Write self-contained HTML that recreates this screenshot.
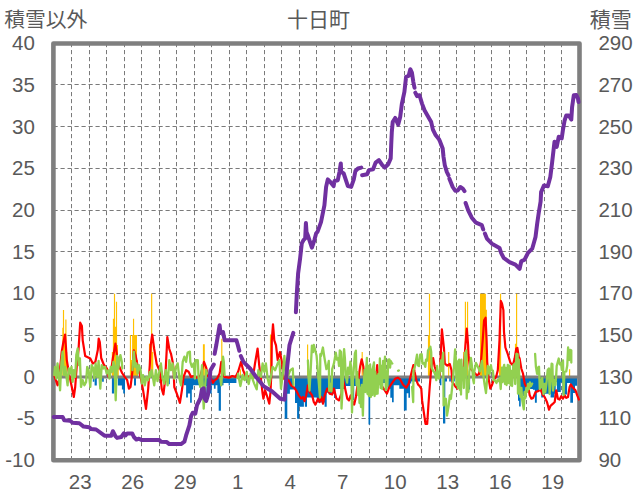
<!DOCTYPE html>
<html><head><meta charset="utf-8"><title>十日町</title>
<style>html,body{margin:0;padding:0;background:#fff;font-family:"Liberation Sans",sans-serif}svg{display:block}</style>
</head><body>
<svg width="636" height="501" viewBox="0 0 636 501">
<rect width="636" height="501" fill="#fff"/>
<path d="M71.5 43V460 M89.5 43V460 M106.5 43V460 M124.5 43V460 M141.5 43V460 M159.5 43V460 M176.5 43V460 M194.5 43V460 M211.5 43V460 M229.5 43V460 M246.5 43V460 M264.5 43V460 M281.5 43V460 M299.5 43V460 M316.5 43V460 M334.5 43V460 M351.5 43V460 M369.5 43V460 M386.5 43V460 M404.5 43V460 M421.5 43V460 M439.5 43V460 M456.5 43V460 M474.5 43V460 M491.5 43V460 M509.5 43V460 M526.5 43V460 M544.5 43V460 M561.5 43V460 M53.5 84.5H579.5 M53.5 126.5H579.5 M53.5 168.5H579.5 M53.5 210.5H579.5 M53.5 251.5H579.5 M53.5 293.5H579.5 M53.5 335.5H579.5 M53.5 376.5H579.5 M53.5 418.5H579.5" stroke="#7a7a7a" stroke-width="1" stroke-dasharray="4.2 2.8" fill="none"/>
<path d="M62.32 377.1H63.48V327.8H62.32ZM62.92 377.1H64.08V310.1H62.92ZM63.72 377.1H64.88V335.1H63.72ZM64.52 377.1H65.68V335.1H64.52ZM65.32 377.1H66.48V319.4H65.32ZM66.02 377.1H67.18V352.0H66.02ZM111.82 377.1H112.98V352.0H111.82ZM112.87 377.1H114.03V318.8H112.87ZM113.92 377.1H115.08V293.8H113.92ZM114.97 377.1H116.13V326.8H114.97ZM115.92 377.1H117.08V301.8H115.92ZM116.82 377.1H117.98V345.0H116.82ZM117.62 377.1H118.78V360.0H117.62ZM129.87 377.1H131.03V335.1H129.87ZM130.82 377.1H131.98V360.0H130.82ZM132.10 377.1H137.00V335.1H132.10ZM132.97 377.1H134.13V318.8H132.97ZM136.82 377.1H137.98V360.0H136.82ZM148.92 377.1H150.08V343.7H148.92ZM151.07 377.1H152.23V293.8H151.07ZM152.12 377.1H153.28V352.0H152.12ZM202.90 377.1H204.80V344.2H202.90ZM221.22 377.1H222.38V338.7H221.22ZM239.82 377.1H240.98V369.3H239.82ZM269.92 377.1H271.08V334.5H269.92ZM307.02 377.1H308.18V344.5H307.02ZM361.62 377.1H362.78V352.1H361.62ZM427.92 377.1H429.08V335.3H427.92ZM428.92 377.1H430.08V293.8H428.92ZM429.82 377.1H430.98V347.0H429.82ZM448.12 377.1H449.28V352.1H448.12ZM463.22 377.1H464.38V352.0H463.22ZM464.82 377.1H465.98V301.8H464.82ZM466.97 377.1H468.13V301.8H466.97ZM480.00 377.1H485.90V293.8H480.00ZM485.90 377.1H486.90V309.8H485.90ZM499.02 377.1H500.18V318.8H499.02ZM499.97 377.1H501.13V293.8H499.97ZM514.92 377.1H516.08V343.7H514.92ZM516.02 377.1H517.18V293.8H516.02ZM515.12 377.1H516.28V372.5H515.12ZM555.92 377.1H557.08V372.7H555.92ZM569.02 377.1H570.18V369.3H569.02Z" fill="#FFC000"/>
<path d="M92.80 377.1H94.20V381.7H92.80ZM94.60 377.1H96.80V385.6H94.60ZM102.10 377.1H103.80V381.7H102.10ZM111.90 377.1H114.20V393.6H111.90ZM117.90 377.1H121.90V385.6H117.90ZM121.90 377.1H123.20V389.6H121.90ZM123.20 377.1H125.00V393.6H123.20ZM134.00 377.1H136.00V385.6H134.00ZM168.40 377.1H169.80V384.3H168.40ZM183.90 377.1H186.10V385.2H183.90ZM186.10 377.1H187.90V397.5H186.10ZM187.90 377.1H190.10V393.6H187.90ZM190.10 377.1H191.80V402.8H190.10ZM191.80 377.1H193.20V389.6H191.80ZM193.20 377.1H202.40V385.2H193.20ZM202.40 377.1H206.40V386.0H202.40ZM206.40 377.1H211.70V393.6H206.40ZM211.70 377.1H213.90V385.2H211.70ZM213.90 377.1H215.60V388.7H213.90ZM215.60 377.1H217.40V385.2H215.60ZM217.40 377.1H218.70V393.1H217.40ZM218.70 377.1H220.90V410.7H218.70ZM220.90 377.1H223.50V385.2H220.90ZM223.50 377.1H236.40V383.0H223.50ZM228.65 377.1H229.85V385.6H228.65ZM284.70 377.1H287.30V418.7H284.70ZM287.30 377.1H289.90V393.8H287.30ZM289.90 377.1H294.00V389.6H289.90ZM295.00 377.1H297.10V403.0H295.00ZM297.10 377.1H299.20V418.7H297.10ZM299.20 377.1H303.90V406.8H299.20ZM303.80 377.1H305.00V402.0H303.80ZM304.90 377.1H307.00V406.8H304.90ZM307.00 377.1H316.80V397.4H307.00ZM316.80 377.1H324.60V402.5H316.80ZM324.60 377.1H326.70V406.8H324.60ZM326.70 377.1H328.80V392.7H326.70ZM328.80 377.1H334.00V393.8H328.80ZM334.00 377.1H335.50V398.0H334.00ZM335.50 377.1H346.00V389.0H335.50ZM346.00 377.1H352.00V386.0H346.00ZM352.00 377.1H354.20V400.0H352.00ZM354.20 377.1H359.60V386.0H354.20ZM359.60 377.1H361.80V388.8H359.60ZM361.80 377.1H368.50V384.0H361.80ZM368.50 377.1H370.20V424.6H368.50ZM370.20 377.1H375.80V384.0H370.20ZM375.80 377.1H378.00V385.4H375.80ZM378.00 377.1H387.50V383.0H378.00ZM387.50 377.1H390.30V388.8H387.50ZM390.30 377.1H392.00V397.7H390.30ZM392.00 377.1H393.70V402.2H392.00ZM393.70 377.1H399.30V385.3H393.70ZM399.30 377.1H403.90V388.8H399.30ZM403.90 377.1H406.70V410.6H403.90ZM406.70 377.1H408.40V393.3H406.70ZM408.40 377.1H410.00V397.7H408.40ZM410.00 377.1H411.20V383.6H410.00ZM411.20 377.1H420.00V381.5H411.20ZM439.80 377.1H441.40V385.3H439.80ZM443.00 377.1H445.30V423.5H443.00ZM445.30 377.1H447.00V381.5H445.30ZM449.20 377.1H450.90V381.5H449.20ZM453.70 377.1H454.80V381.5H453.70ZM466.70 377.1H470.10V389.6H466.70ZM518.00 377.1H519.10V400.7H518.00ZM519.10 377.1H520.70V406.6H519.10ZM520.70 377.1H526.20V396.0H520.70ZM526.20 377.1H532.90V389.0H526.20ZM532.90 377.1H534.90V389.7H532.90ZM534.90 377.1H536.80V402.7H534.90ZM536.80 377.1H541.20V391.3H536.80ZM541.20 377.1H543.10V397.6H541.20ZM543.10 377.1H550.60V393.7H543.10ZM550.60 377.1H554.50V397.6H550.60ZM554.50 377.1H555.70V393.7H554.50ZM555.70 377.1H556.90V381.9H555.70ZM556.90 377.1H560.80V392.0H556.90ZM560.80 377.1H562.40V382.6H560.80ZM562.40 377.1H567.10V394.4H562.40ZM567.10 377.1H570.30V383.0H567.10ZM570.30 377.1H573.00V402.7H570.30ZM573.00 377.1H575.00V392.9H573.00ZM575.00 377.1H577.30V385.8H575.00Z" fill="#0070C0"/>
<path d="M53.4 377.1H579.5" stroke="#7F7F7F" stroke-width="3" fill="none"/>
<rect x="53.4" y="43.5" width="526.1" height="416.7" fill="none" stroke="#7F7F7F" stroke-width="4.6" stroke-linejoin="round"/>
<path d="M54.2 375.2 L57.6 385.3 L59.0 380.0 L61.7 351.7 L63.4 342.0 L65.1 334.5 L66.8 360.1 L69.3 375.2 L71.8 387.0 L73.8 397.0 L75.2 387.0 L76.8 365.1 L78.5 350.0 L80.2 322.7 L81.9 326.1 L82.7 340.3 L85.2 356.0 L90.3 358.6 L92.8 363.6 L95.3 362.0 L97.8 350.0 L98.7 338.7 L99.8 342.0 L101.2 358.0 L103.7 364.5 L107.0 368.7 L108.7 376.9 L111.2 370.2 L112.9 358.0 L115.4 343.7 L117.1 356.0 L118.8 365.5 L122.1 373.0 L124.7 376.9 L127.2 380.2 L128.9 388.6 L130.5 387.0 L132.2 373.5 L133.9 350.4 L135.6 355.4 L137.2 363.8 L138.1 368.5 L140.6 376.9 L143.1 390.3 L146.0 408.8 L148.2 388.6 L149.8 365.1 L150.7 345.4 L152.2 334.5 L154.2 349.0 L156.7 364.0 L160.1 371.8 L161.7 388.6 L163.4 394.5 L165.1 380.2 L166.8 348.4 L167.3 337.0 L169.3 349.0 L171.0 353.8 L172.7 362.1 L173.5 368.5 L174.3 387.0 L176.8 393.7 L179.9 402.9 L181.9 390.3 L183.6 376.9 L186.1 370.2 L188.6 371.8 L191.1 376.9 L193.6 376.0 L197.0 377.7 L200.3 376.0 L202.9 366.8 L204.0 361.8 L206.2 367.7 L207.9 376.0 L211.2 378.6 L212.9 382.8 L214.6 380.2 L217.1 378.6 L219.6 373.5 L221.3 361.8 L223.0 373.5 L224.7 376.9 L228.9 377.7 L232.2 376.0 L235.6 376.9 L238.1 371.8 L241.1 361.8 L243.1 370.2 L245.6 376.0 L250.7 376.9 L254.0 370.2 L255.0 363.5 L257.6 348.5 L259.2 365.1 L260.9 378.6 L262.6 393.7 L263.4 398.7 L265.1 390.3 L266.8 395.3 L269.3 403.7 L270.5 392.0 L271.5 370.2 L271.8 340.3 L273.0 324.4 L274.3 340.3 L276.0 345.4 L277.7 360.0 L279.9 352.0 L281.9 362.0 L283.6 378.6 L286.0 379.0 L288.6 380.2 L291.1 385.3 L293.6 387.0 L296.1 390.3 L298.7 395.3 L301.2 398.7 L302.9 397.0 L304.5 401.2 L306.2 395.3 L307.9 385.3 L309.6 392.0 L312.1 395.3 L313.8 402.0 L315.4 404.6 L318.0 398.7 L319.6 402.0 L321.3 397.0 L323.0 403.7 L324.7 395.3 L327.2 388.6 L329.7 393.7 L332.2 394.5 L333.9 388.6 L336.4 398.7 L338.9 400.4 L341.4 393.7 L343.1 380.2 L344.8 387.0 L347.3 398.7 L349.0 400.4 L350.7 395.3 L353.2 403.7 L354.2 404.6 L355.9 397.0 L358.4 378.6 L360.1 366.8 L361.7 359.3 L363.4 366.8 L364.3 378.6 L367.0 384.0 L370.0 386.0 L373.0 384.0 L376.0 378.6 L377.2 365.0 L378.2 378.6 L380.0 383.0 L383.6 388.6 L386.9 393.7 L389.4 387.0 L392.8 381.9 L395.3 378.6 L397.8 377.7 L400.3 379.4 L402.9 384.4 L406.2 387.8 L408.7 383.6 L410.4 376.9 L412.1 370.2 L413.4 365.0 L414.6 371.8 L416.3 380.2 L418.0 384.4 L419.6 386.1 L421.3 388.6 L422.1 400.4 L423.8 412.1 L425.5 423.9 L427.2 423.9 L428.5 403.7 L429.7 387.0 L431.4 366.8 L433.1 358.0 L434.7 366.8 L437.2 373.5 L439.8 375.2 L440.6 358.8 L441.9 329.4 L444.0 348.7 L444.8 363.6 L447.3 365.7 L449.8 364.0 L451.5 370.3 L452.3 381.9 L454.0 384.4 L455.7 387.0 L457.6 388.6 L459.2 378.6 L461.5 376.0 L463.4 370.2 L464.8 355.0 L465.4 345.4 L466.8 328.6 L468.1 345.4 L468.5 355.0 L470.1 368.5 L473.5 371.8 L476.8 375.2 L479.0 374.0 L481.0 361.8 L482.7 340.3 L484.1 320.2 L485.6 317.7 L486.6 340.3 L487.2 361.8 L488.6 378.6 L490.3 388.6 L491.9 385.3 L493.6 380.2 L496.1 376.9 L497.8 370.2 L499.5 340.3 L500.8 300.9 L502.0 303.4 L503.4 310.1 L504.0 332.0 L505.4 347.5 L507.9 354.4 L510.4 362.8 L512.9 365.3 L514.6 358.6 L516.3 348.5 L517.4 347.9 L518.8 357.1 L519.6 358.4 L521.3 368.5 L523.0 373.5 L524.7 383.6 L526.3 387.0 L528.0 385.3 L529.7 395.3 L531.4 398.7 L533.1 397.9 L535.6 392.0 L538.1 391.1 L540.6 389.5 L542.8 395.0 L544.6 397.0 L547.0 402.0 L549.0 409.6 L550.5 405.8 L553.0 403.7 L554.7 402.0 L556.2 390.3 L557.9 398.7 L559.6 399.5 L561.2 396.2 L562.9 398.7 L564.6 395.3 L566.3 397.9 L568.0 397.0 L569.6 387.0 L570.8 384.4 L573.0 387.8 L575.5 390.3 L577.2 395.3 L578.9 399.5" stroke="#FF0000" stroke-width="2.2" fill="none" stroke-linejoin="round" stroke-linecap="round"/>
<path d="M54.2 375.2 L55.0 366.8 L56.4 378.5 L57.5 363.4 L58.4 370.2 L60.1 390.3 L61.4 361.8 L62.6 351.7 L63.8 375.2 L65.1 366.8 L67.6 385.3 L68.8 368.5 L70.1 373.5 L71.5 366.8 L72.6 381.9 L73.8 370.2 L75.2 376.9 L76.3 355.1 L77.7 348.4 L78.8 365.1 L79.9 358.4 L81.0 386.9 L82.7 380.2 L84.4 385.3 L86.1 381.9 L87.2 366.8 L88.6 370.2 L90.3 386.9 L91.6 365.1 L93.3 368.5 L94.4 378.5 L95.6 363.4 L97.3 376.9 L98.6 360.9 L100.3 388.6 L101.7 365.1 L103.3 368.5 L105.0 366.8 L106.7 373.5 L108.4 370.2 L109.5 378.5 L110.7 366.8 L112.1 371.8 L113.4 361.8 L114.6 366.8 L115.7 400.3 L117.1 355.9 L118.4 368.5 L119.3 360.1 L120.4 355.1 L121.8 361.8 L122.3 368.5 M132.5 370.2 L133.2 360.1 L133.9 351.7 L135.2 366.8 L136.4 363.4 L137.6 373.5 L138.9 365.1 L140.6 370.2 L141.9 383.6 L143.1 375.2 L144.8 385.3 L146.4 376.9 L148.1 380.2 L149.8 371.8 L150.0 376.9 L151.7 370.2 L154.2 385.3 L155.9 370.2 L157.5 381.1 L160.9 363.4 L162.6 378.5 L164.3 383.6 L165.9 370.2 L167.6 385.3 L169.3 360.1 L171.0 370.2 L172.6 363.4 L174.3 378.5 L176.0 366.8 L177.7 363.4 L179.4 378.5 L181.0 385.3 L182.7 361.8 L184.4 356.7 L186.1 361.8 L187.7 352.5 L189.9 351.7 L190.3 361.8 L191.9 366.8 L193.6 363.4 L194.9 378.5 L195.6 360.1 L197.8 360.1 L198.6 378.5 L200.3 386.9 L202.0 365.1 L203.7 408.7 L204.5 395.3 L206.2 370.2 L207.0 373.5 M220.4 378.5 L221.3 385.3 L223.0 356.7 L223.8 361.8 L224.6 375.2 M237.5 378.0 L238.1 373.7 L239.1 379.5 L240.4 386.0 L241.6 380.0 L242.6 375.0 L243.6 378.8 L244.8 380.1 L246.8 371.8 L247.7 380.1 L248.7 384.0 L250.7 373.5 L253.2 378.6 L251.7 376.9 L254.2 383.6 L256.7 389.4 L258.4 370.2 L260.9 376.9 L262.6 363.4 L264.3 371.8 L265.9 363.4 L267.6 378.5 L269.3 385.3 L272.6 366.8 L275.2 370.2 L277.7 363.4 L279.4 360.1 L281.0 388.6 L282.7 375.2 L284.4 355.9 L286.1 378.5 L287.7 376.9 L290.3 370.2 L292.8 368.5 L293.6 385.3 M307.9 360.5 L308.7 380.0 L309.5 390.5 L310.6 372.0 L311.9 345.6 L313.0 352.0 L313.8 344.8 L315.4 351.0 L316.6 355.8 L318.4 378.0 L320.0 397.6 L320.3 354.2 L321.0 356.0 L322.9 347.5 L324.4 357.5 L326.4 369.2 L327.6 367.5 L328.8 360.9 L329.2 391.0 L330.5 384.0 L331.5 391.3 L332.2 369.2 L333.9 363.7 L335.8 352.6 L337.0 359.7 L338.2 358.2 L339.0 366.0 L339.8 350.3 L341.0 352.0 L341.5 408.6 L342.9 383.0 L343.3 360.0 L344.1 349.1 L344.9 358.0 L345.7 375.4 L347.1 382.6 L348.0 367.6 L349.2 373.9 L350.4 361.7 L351.2 367.6 L352.0 412.5 L353.0 380.0 L354.9 353.4 L355.9 350.7 L356.6 385.0 L357.3 372.0 L358.0 395.0 L358.8 380.0 L359.5 403.0 L360.2 388.0 L361.0 407.0 L361.8 385.0 L362.9 415.6 L363.6 385.0 L364.6 369.9 L365.3 392.0 L366.0 372.0 L366.9 357.8 L367.5 394.0 L368.2 366.0 L368.9 396.0 L369.5 368.0 L370.1 364.4 L370.8 397.0 L371.5 370.0 L372.2 395.0 L372.9 368.0 L374.0 362.5 L374.6 396.0 L375.3 372.0 L376.0 394.0 L376.8 376.0 L377.6 393.7 L378.4 374.0 L379.2 384.0 L379.9 358.5 L380.6 388.0 L381.4 366.0 L382.2 389.0 L383.1 360.9 L383.9 378.0 L385.0 356.6 L385.8 389.9 L386.6 372.0 L387.4 386.0 L388.2 359.7 L388.9 367.0 L389.3 359.3 L390.1 367.6 L390.7 361.0 L391.7 362.9 L392.3 363.5 M398.1 370.8 L398.8 370.4 M412.1 387.0 L413.2 402.2 L413.5 369.9 L414.7 367.6 L417.0 354.6 L417.8 365.2 L419.0 366.0 L420.2 354.6 L421.7 354.2 L422.5 363.7 L424.0 363.0 L425.3 366.8 L426.0 359.7 L427.2 360.5 L428.0 350.3 L430.4 346.8 L431.2 352.0 L431.6 367.6 L433.1 370.7 L434.3 372.3 L435.5 375.4 L436.3 380.2 L437.1 366.0 L437.8 375.4 L439.0 378.6 L439.8 371.5 L441.0 360.5 L441.9 371.0 L443.2 352.6 L443.6 405.6 L444.2 398.0 L444.8 404.4 L445.9 398.8 L447.0 415.6 L448.7 405.6 L449.8 395.5 L450.9 398.8 L452.6 383.2 L453.6 372.0 L455.1 349.5 L455.9 358.9 L456.5 385.0 L457.1 361.3 L457.9 388.0 L458.6 362.0 L459.1 359.7 L459.9 390.0 L460.6 372.0 L461.0 394.6 L461.4 359.7 L462.2 380.0 L463.0 368.0 L463.8 388.0 L465.0 352.6 L465.6 372.0 L466.2 350.3 L466.7 398.6 L467.6 380.0 L468.4 392.0 L469.3 372.0 L470.9 357.8 L471.7 363.7 L472.4 370.7 L473.2 380.0 L473.9 383.3 L474.3 371.5 L476.0 362.9 L477.9 366.8 L479.9 371.5 L481.9 360.9 L482.7 369.2 L483.4 375.4 L484.5 384.0 L486.0 393.0 L487.0 380.0 L487.8 366.0 L488.9 367.6 L489.7 373.9 L490.9 365.2 L491.7 369.9 L492.9 370.7 L493.7 380.2 L495.2 380.9 L496.5 383.0 L497.5 380.0 L498.7 381.0 L499.8 378.0 L500.7 389.0 L501.9 367.6 L502.6 382.0 L503.4 368.0 L504.2 364.8 L505.0 384.0 L505.8 368.0 L506.6 385.0 L507.8 364.8 L508.6 383.0 L509.7 365.6 L510.5 385.3 L511.3 371.0 L512.1 386.0 L513.3 365.2 L514.4 364.0 L515.2 384.0 L516.4 353.8 L517.6 354.2 L518.0 393.7 L518.8 359.7 L519.6 390.0 L520.5 397.0 L521.4 388.0 L522.2 400.0 L523.8 409.4 L524.6 392.0 L525.4 398.0 L526.3 388.0 L527.2 392.0 L528.0 384.0 L529.0 389.0 L530.0 382.5 L531.0 386.0 L532.2 383.6 M535.1 353.8 L535.9 366.8 L537.1 373.9 L537.9 367.6 L539.0 366.8 L539.8 389.0 L540.6 380.0 L541.4 387.0 L542.2 378.0 L543.5 394.0 L544.5 384.0 L545.3 392.0 L546.5 383.0 L547.7 369.9 L548.9 368.4 L549.6 394.0 L550.6 380.0 L551.6 363.7 L552.4 364.0 L553.0 390.5 L554.2 380.0 L555.5 385.0 L556.3 373.1 L556.7 366.0 L558.7 358.5 L559.9 364.4 L561.0 362.9 L561.8 369.9 L563.0 360.5 L563.6 395.2 L564.4 372.0 L566.2 371.5 L567.3 365.2 L568.1 347.5 L569.2 360.0 L570.1 349.9 L571.3 350.3 L571.3 362.5" stroke="#92D050" stroke-width="2.3" fill="none" stroke-linejoin="round" stroke-linecap="round"/>
<path d="M53.7 416.9 L62.6 416.9 L64.3 420.3 L70.1 420.8 L72.6 422.8 L79.4 423.3 L83.6 426.6 L89.4 427.3 L91.1 429.0 L96.1 429.5 L104.5 435.7 L111.2 435.7 L112.9 431.2 L115.4 436.2 L117.1 437.9 L121.3 437.0 L123.8 433.4 L125.5 435.4 L127.2 433.4 L132.2 433.4 L133.9 437.0 L136.4 439.6 L138.9 438.7 L141.4 439.9 L159.2 439.9 L160.9 441.7 L166.8 442.1 L169.3 444.1 L181.0 444.1 L184.4 441.7 L186.1 435.4 L189.4 425.3 L191.1 416.1 L192.8 412.7 L195.3 413.6 L197.0 405.2 L200.3 398.5 L202.0 389.2 L203.7 388.4 L204.5 398.5 L206.2 401.0 L207.9 395.1 L209.1 385.0 L210.4 370.5 L213.8 364.5 M214.6 353.8 L216.3 345.0 L218.0 335.0 L219.6 325.2 L220.5 333.0 L223.0 332.0 L224.7 340.3 L236.4 340.3 L237.8 345.0 L239.3 350.8 M240.8 356.0 L243.4 361.8 L250.1 368.5 L256.8 377.8 L263.5 386.1 L271.9 391.2 L280.3 398.7 L284.5 399.6 L285.3 390.3 L287.0 368.5 L289.5 345.0 L291.2 339.5 L293.3 332.8 M295.9 312.2 L296.8 293.8 L298.1 273.6 L300.1 258.5 L301.8 243.4 L303.5 240.1 L305.2 238.4 L305.9 223.0 L306.5 232.0 L307.7 235.0 L311.9 247.6 L314.4 240.1 L316.1 233.4 L317.7 231.4 L321.0 222.1 L324.4 205.4 L326.1 186.9 L327.8 179.4 L330.3 181.9 L333.6 186.1 L334.5 181.0 L337.8 180.2 L339.5 171.8 L340.8 163.4 L341.2 171.8 L343.7 173.5 L347.9 186.1 L351.2 186.9 L353.8 179.4 L355.4 171.0 L358.0 168.5 L361.3 167.6 M362.1 175.2 L367.2 174.3 L368.9 170.1 L373.1 169.3 L375.6 162.6 L378.9 160.1 L382.3 165.1 L384.8 167.6 L388.2 164.3 L390.7 158.4 L391.2 145.0 L391.8 132.1 L392.7 122.1 L395.2 117.9 L398.2 124.6 L400.2 117.0 L401.9 103.6 L404.4 91.9 L406.1 76.8 L408.6 75.9 L410.3 69.2 L411.9 72.6 L413.3 81.8 L414.5 87.7 M415.3 92.7 L417.0 96.1 L419.5 95.2 L422.0 103.6 L424.5 110.3 L427.9 116.2 L431.2 122.1 L432.9 129.6 L435.4 134.7 L438.8 138.9 L440.1 141.7 L442.7 148.5 L443.5 156.8 L444.8 165.2 L446.8 171.9 L448.5 175.3 M449.4 178.7 L452.7 187.0 L455.2 190.7 L457.8 190.4 L460.3 187.0 L462.8 188.7 L464.5 191.2 M465.6 203.0 L468.4 210.9 L471.8 217.7 L476.0 222.7 L481.8 225.2 L483.2 229.4 M484.9 233.6 L486.9 238.6 L491.9 243.7 L499.5 247.9 L501.1 252.9 L503.7 257.9 L509.5 262.1 L515.4 264.6 L519.6 268.8 L521.3 261.3 L524.6 259.6 L528.0 252.9 L532.2 248.7 L533.9 242.8 L535.5 236.9 L537.2 223.5 L538.9 211.8 L540.6 201.7 L541.1 192.1 L544.0 185.4 L547.8 186.3 L550.3 177.0 L552.0 163.6 L554.5 141.8 L556.7 146.8 L558.7 136.8 L561.7 138.5 L562.9 130.1 L564.6 120.5 L566.3 115.4 L568.8 115.4 L571.3 119.6 L572.1 107.0 L573.8 95.3 L576.3 95.0 L578.0 98.7 L578.5 102.0" stroke="#7030A0" stroke-width="4" fill="none" stroke-linejoin="round" stroke-linecap="round"/>
<g fill="#595959" font-family="&quot;Liberation Sans&quot;, sans-serif" font-size="20.5" text-anchor="end">
<text x="34.9" y="50.25">40</text>
<text x="34.9" y="91.92">35</text>
<text x="34.9" y="133.59">30</text>
<text x="34.9" y="175.26">25</text>
<text x="34.9" y="216.93">20</text>
<text x="34.9" y="258.60">15</text>
<text x="34.9" y="300.27">10</text>
<text x="34.9" y="341.94">5</text>
<text x="34.9" y="383.61">0</text>
<text x="34.9" y="425.28">-5</text>
<text x="34.9" y="466.95">-10</text>
</g>
<g fill="#595959" font-family="&quot;Liberation Sans&quot;, sans-serif" font-size="20.5">
<text x="598.40" y="50.25">290</text>
<text x="598.40" y="91.92">270</text>
<text x="598.40" y="133.59">250</text>
<text x="598.40" y="175.26">230</text>
<text x="598.40" y="216.93">210</text>
<text x="598.40" y="258.60">190</text>
<text x="598.40" y="300.27">170</text>
<text x="598.40" y="341.94">150</text>
<text x="598.40" y="383.61">130</text>
<text x="598.40" y="425.28">110</text>
<text x="598.40" y="466.95">90</text>
<text x="68.85" y="488.70">23</text>
<text x="121.35" y="488.70">26</text>
<text x="173.85" y="488.70">29</text>
<text x="232.05" y="488.70">1</text>
<text x="284.55" y="488.70">4</text>
<text x="337.05" y="488.70">7</text>
<text x="383.85" y="488.70">10</text>
<text x="436.35" y="488.70">13</text>
<text x="488.85" y="488.70">16</text>
<text x="541.35" y="488.70">19</text>
</g>
<text x="4.20" y="26.95" fill="#595959" font-size="20.8" font-family="&quot;Liberation Sans&quot;, &quot;Noto Sans CJK JP&quot;, sans-serif">積雪以外</text>
<text x="286.90" y="27.20" fill="#595959" font-size="21" font-family="&quot;Liberation Sans&quot;, &quot;Noto Sans CJK JP&quot;, sans-serif">十日町</text>
<text x="589.70" y="26.95" fill="#595959" font-size="21" font-family="&quot;Liberation Sans&quot;, &quot;Noto Sans CJK JP&quot;, sans-serif">積雪</text>
</svg>
</body></html>
